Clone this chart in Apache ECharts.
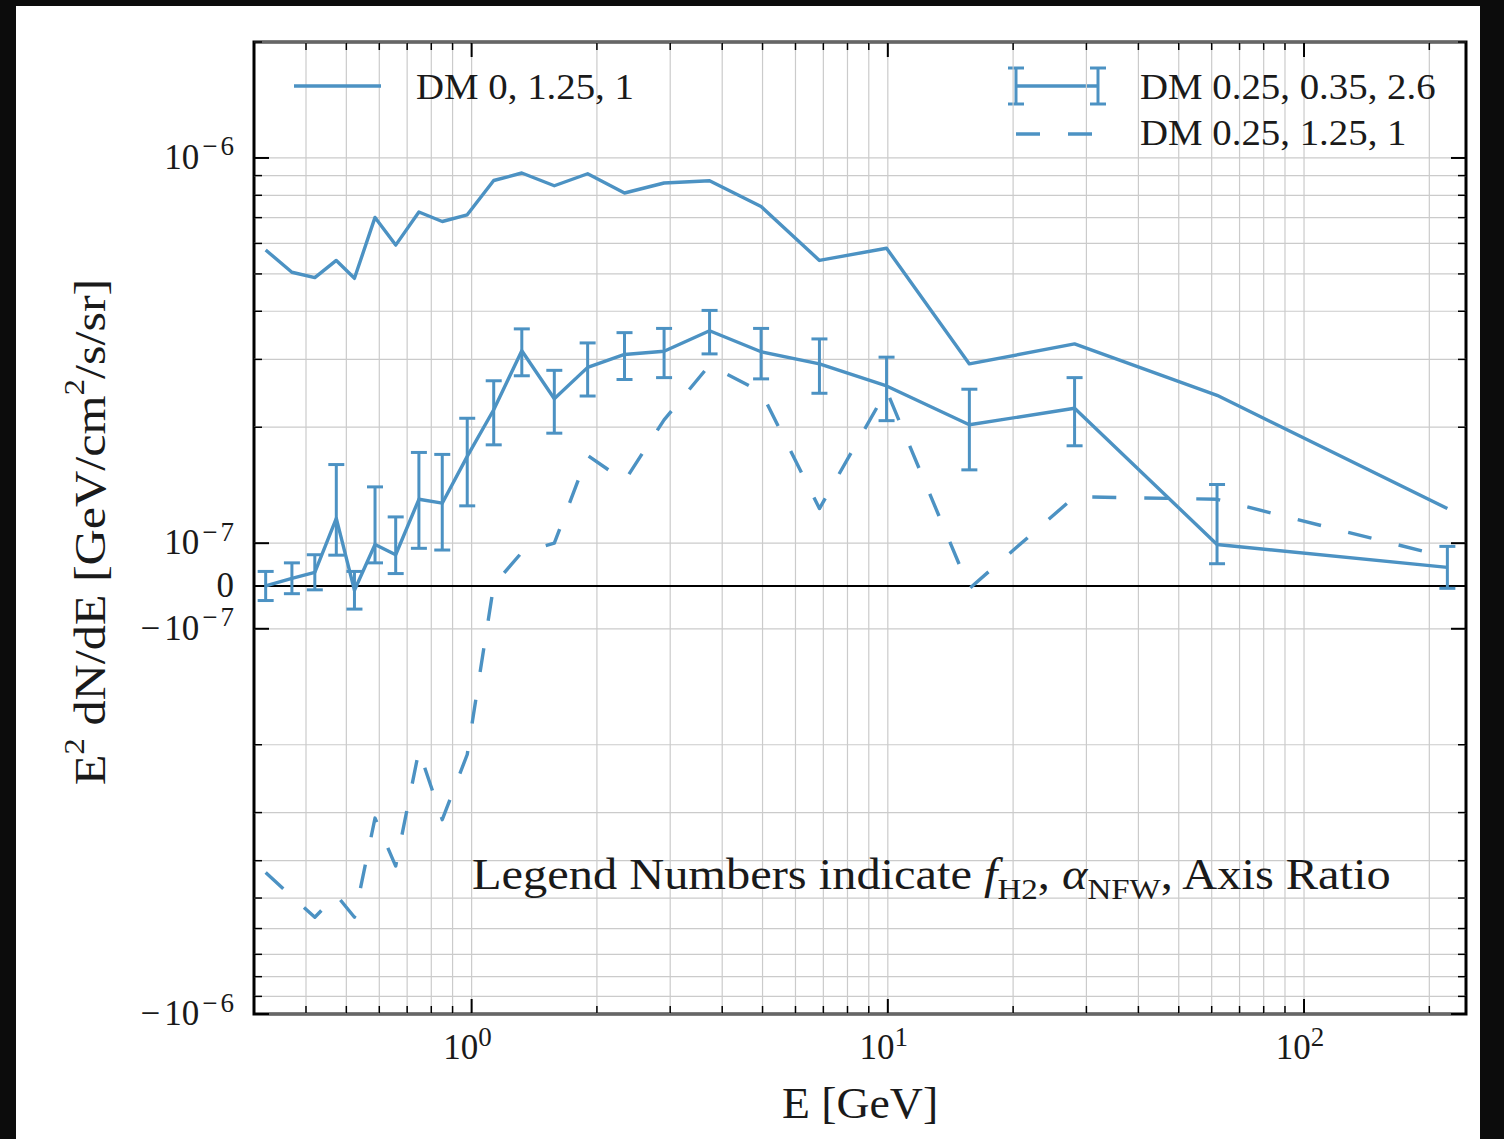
<!DOCTYPE html>
<html>
<head>
<meta charset="utf-8">
<script src="https://cdn.jsdelivr.net/npm/echarts@6.0.0/dist/echarts.min.js"></script>
<style>
html,body{margin:0;padding:0;background:#0c0c0c;}
#wrap{position:relative;width:1504px;height:1139px;overflow:hidden;}
#paper{position:absolute;left:16px;top:6px;width:1464px;height:1133px;background:#fff;}
#c{position:absolute;left:0;top:0;width:1504px;height:1139px;}
</style>
</head>
<body>
<div id="wrap"><div id="paper"></div><div id="c"></div></div>
<script>
// ---------------- data ----------------
const energy = [0.32, 0.37, 0.42, 0.473, 0.523, 0.586, 0.657, 0.747, 0.85, 0.976, 1.13, 1.32,
                1.58, 1.9, 2.33, 2.9, 3.73, 4.96, 6.85, 9.93, 15.7, 28.1, 61.8, 221];
const dm_0_125_1 = [5.77e-7, 5.05e-7, 4.89e-7, 5.42e-7, 4.87e-7, 7.01e-7, 5.94e-7, 7.24e-7, 6.84e-7, 7.12e-7,
                    8.74e-7, 9.14e-7, 8.47e-7, 9.10e-7, 8.11e-7, 8.61e-7, 8.73e-7, 7.48e-7, 5.42e-7, 5.83e-7,
                    2.92e-7, 3.29e-7, 2.42e-7, 1.23e-7];
const dm_025_035_26 = [0.0, 0.18e-7, 0.32e-7, 1.16e-7, -0.10e-7, 0.97e-7, 0.73e-7, 1.30e-7, 1.27e-7, 1.68e-7,
                       2.22e-7, 3.16e-7, 2.37e-7, 2.86e-7, 3.09e-7, 3.15e-7, 3.56e-7, 3.14e-7, 2.92e-7, 2.56e-7,
                       2.03e-7, 2.24e-7, 0.97e-7, 0.435e-7];
const dm_025_035_26_err = [0.34e-7, 0.36e-7, 0.41e-7, 0.44e-7, 0.44e-7, 0.43e-7, 0.44e-7, 0.42e-7, 0.43e-7, 0.43e-7,
                           0.42e-7, 0.44e-7, 0.44e-7, 0.45e-7, 0.43e-7, 0.46e-7, 0.46e-7, 0.47e-7, 0.47e-7, 0.48e-7,
                           0.48e-7, 0.45e-7, 0.45e-7, 0.49e-7];
const dm_025_125_1 = [-4.29e-7, -4.96e-7, -5.61e-7, -4.91e-7, -5.61e-7, -3.10e-7, -4.13e-7, -2.07e-7, -3.13e-7, -2.12e-7,
                      0.02e-7, 0.785e-7, 1.0e-7, 1.69e-7, 1.45e-7, 2.09e-7, 2.90e-7, 2.47e-7, 1.23e-7, 2.49e-7,
                      -0.06e-7, 1.32e-7, 1.30e-7, 0.67e-7];

const seriesNames = ['DM 0, 1.25, 1', 'DM 0.25, 0.35, 2.6', 'DM 0.25, 1.25, 1'];

const xMajorTicks = [1, 10, 100];
const xMajorExp = ['0', '1', '2'];
const xMinorTicks = [0.4, 0.5, 0.6, 0.7, 0.8, 0.9, 2, 3, 4, 5, 6, 7, 8, 9,
                     20, 30, 40, 50, 60, 70, 80, 90, 200];
const yMajorTicks = [-1e-6, -1e-7, 0, 1e-7, 1e-6];
// [sign, base, exponent]
const yMajorLabels = [['−', '10', '6'], ['−', '10', '7'], ['', '0', ''], ['', '10', '7'], ['', '10', '6']];
const yMinorTicks = [-9e-7, -8e-7, -7e-7, -6e-7, -5e-7, -4e-7, -3e-7, -2e-7,
                     2e-7, 3e-7, 4e-7, 5e-7, 6e-7, 7e-7, 8e-7, 9e-7, 2e-6];
const xRange = [0.3, 245];
const yRange = [-1e-6, 2e-6];

// ---------------- symlog transform (linthresh 1e-7, linscale 0.1) ----------------
const LT = 1e-7, LS = 0.1 / 0.9;
function sym(v) {
  const a = Math.abs(v);
  if (a <= LT) return v / LT * LS;
  return Math.sign(v) * (LS + Math.log10(a / LT));
}
const yMinT = sym(yRange[0]), yMaxT = sym(yRange[1]);

const C = '#4c92c3';
const INK = '#1a1a1a';
const FONT = '"Liberation Serif", "DejaVu Serif", serif';
const RICH = {
  n: {fontSize: 35, fontFamily: FONT, lineHeight: 42, verticalAlign: 'bottom', fill: INK, padding: [0, 4, 0, 3]},
  b: {fontSize: 35, fontFamily: FONT, lineHeight: 42, verticalAlign: 'bottom', fill: INK},
  m: {fontSize: 27, fontFamily: FONT, lineHeight: 24, verticalAlign: 'top', fill: INK, padding: [0, 3, 0, 3]},
  s: {fontSize: 27, fontFamily: FONT, lineHeight: 24, verticalAlign: 'top', fill: INK}
};
const GRIDC = '#cbcbcb';

function renderXTick(params, api) {
  const E = api.value(0), major = api.value(2), li = api.value(3);
  const b = api.coord([E, yMinT]), t = api.coord([E, yMaxT]);
  const len = major ? 15 : 8, w = major ? 2 : 1.5;
  const ch = [
    {type: 'line', shape: {x1: b[0], y1: b[1], x2: t[0], y2: t[1]}, style: {stroke: GRIDC, lineWidth: 1.2}},
    {type: 'line', shape: {x1: b[0], y1: b[1], x2: b[0], y2: b[1] - len}, style: {stroke: '#000', lineWidth: w}},
    {type: 'line', shape: {x1: t[0], y1: t[1], x2: t[0], y2: t[1] + len}, style: {stroke: '#000', lineWidth: w}}
  ];
  if (major) {
    ch.push({type: 'text', x: b[0] - 4, y: b[1] + 9,
      style: {text: '{b|10}{s|' + xMajorExp[li] + '}', rich: RICH, align: 'center', verticalAlign: 'top', fill: INK}});
  }
  return {type: 'group', children: ch};
}

function renderYTick(params, api) {
  const y = api.value(1), major = api.value(2), li = api.value(3);
  const l = api.coord([xRange[0], y]), r = api.coord([xRange[1], y]);
  const len = major ? 15 : 8, w = major ? 2 : 1.5;
  const isZero = Math.abs(y) < 1e-12;
  const ch = [
    {type: 'line', shape: {x1: l[0], y1: l[1], x2: r[0], y2: r[1]},
     style: {stroke: isZero ? '#000' : GRIDC, lineWidth: isZero ? 2 : 1.2}},
    {type: 'line', shape: {x1: l[0], y1: l[1], x2: l[0] + len, y2: l[1]}, style: {stroke: '#000', lineWidth: w}},
    {type: 'line', shape: {x1: r[0], y1: r[1], x2: r[0] - len, y2: r[1]}, style: {stroke: '#000', lineWidth: w}}
  ];
  if (major) {
    const lab = yMajorLabels[li];
    let txt = '';
    if (lab[0]) txt += '{n|' + lab[0] + '}';
    txt += '{b|' + lab[1] + '}';
    if (lab[2]) txt += '{m|−}{s|' + lab[2] + '}';
    ch.push({type: 'text', x: l[0] - 20, y: l[1] - 4,
      style: {text: txt, rich: RICH, align: 'right', verticalAlign: 'middle', fill: INK}});
  }
  return {type: 'group', children: ch};
}

function renderErr(params, api) {
  const E = api.value(0);
  const top = api.coord([E, api.value(2)]), bot = api.coord([E, api.value(3)]);
  const hw = 8, st = {stroke: C, lineWidth: 3};
  return {type: 'group', children: [
    {type: 'line', shape: {x1: top[0], y1: top[1], x2: bot[0], y2: bot[1]}, style: st},
    {type: 'line', shape: {x1: top[0] - hw, y1: top[1], x2: top[0] + hw, y2: top[1]}, style: st},
    {type: 'line', shape: {x1: bot[0] - hw, y1: bot[1], x2: bot[0] + hw, y2: bot[1]}, style: st}
  ]};
}

const xTickData = xMajorTicks.map((e, i) => [e, 0, 1, i]).concat(xMinorTicks.map(e => [e, 0, 0, -1]));
const yTickData = yMajorTicks.map((v, i) => [1, sym(v), 1, i]).concat(yMinorTicks.map(v => [1, sym(v), 0, -1]));

const LEG_FONT = '35px ' + FONT;
const chart = echarts.init(document.getElementById('c'), null, {renderer: 'svg'});
chart.setOption({
  backgroundColor: 'transparent',
  animation: false,
  grid: {left: 254, right: 38, top: 42, bottom: 125, show: true, borderColor: '#000', borderWidth: 3,
         backgroundColor: 'transparent'},
  xAxis: {type: 'log', logBase: 10, min: xRange[0], max: xRange[1],
          axisLine: {show: false}, axisTick: {show: false}, axisLabel: {show: false}, splitLine: {show: false}},
  yAxis: {type: 'value', min: yMinT, max: yMaxT,
          axisLine: {show: false}, axisTick: {show: false}, axisLabel: {show: false}, splitLine: {show: false}},
  series: [
    {type: 'custom', name: 'xticks', renderItem: renderXTick, data: xTickData, z: 1, silent: true, clip: false},
    {type: 'custom', name: 'yticks', renderItem: renderYTick, data: yTickData, z: 1, silent: true, clip: false},
    {type: 'line', name: seriesNames[0], data: energy.map((e, i) => [e, sym(dm_0_125_1[i])]),
     showSymbol: false, symbol: 'none', z: 5,
     lineStyle: {color: C, width: 3.4, join: 'round'}},
    {type: 'line', name: seriesNames[1], data: energy.map((e, i) => [e, sym(dm_025_035_26[i])]),
     showSymbol: false, symbol: 'none', z: 5,
     lineStyle: {color: C, width: 3.4, join: 'round'}},
    {type: 'custom', name: seriesNames[1] + ' err', renderItem: renderErr, z: 5, clip: false,
     data: energy.map((e, i) => [e, sym(dm_025_035_26[i]),
                                 sym(dm_025_035_26[i] + dm_025_035_26_err[i]),
                                 sym(dm_025_035_26[i] - dm_025_035_26_err[i])])},
    {type: 'line', name: seriesNames[2], data: energy.map((e, i) => [e, sym(dm_025_125_1[i])]),
     showSymbol: false, symbol: 'none', z: 5,
     lineStyle: {color: C, width: 3.4, type: [24, 28], cap: 'butt', join: 'round'}}
  ],
  graphic: [
    // legend: solid line
    {type: 'line', shape: {x1: 294, y1: 86, x2: 381, y2: 86}, style: {stroke: C, lineWidth: 3.4}, z: 10},
    {type: 'text', x: 416, y: 87, z: 10, scaleX: 1.11,
     style: {text: seriesNames[0], font: LEG_FONT, fill: INK, align: 'left', verticalAlign: 'middle'}},
    // legend: errorbar
    {type: 'group', z: 10, children: [
      {type: 'line', shape: {x1: 1016, y1: 86, x2: 1098, y2: 86}, style: {stroke: C, lineWidth: 3.4}},
      {type: 'line', shape: {x1: 1016, y1: 68, x2: 1016, y2: 104}, style: {stroke: C, lineWidth: 3}},
      {type: 'line', shape: {x1: 1008, y1: 68, x2: 1024, y2: 68}, style: {stroke: C, lineWidth: 3}},
      {type: 'line', shape: {x1: 1008, y1: 104, x2: 1024, y2: 104}, style: {stroke: C, lineWidth: 3}},
      {type: 'line', shape: {x1: 1098, y1: 68, x2: 1098, y2: 104}, style: {stroke: C, lineWidth: 3}},
      {type: 'line', shape: {x1: 1090, y1: 68, x2: 1106, y2: 68}, style: {stroke: C, lineWidth: 3}},
      {type: 'line', shape: {x1: 1090, y1: 104, x2: 1106, y2: 104}, style: {stroke: C, lineWidth: 3}}
    ]},
    {type: 'text', x: 1140, y: 87, z: 10, scaleX: 1.11,
     style: {text: seriesNames[1], font: LEG_FONT, fill: INK, align: 'left', verticalAlign: 'middle'}},
    // legend: dashed
    {type: 'line', shape: {x1: 1016, y1: 134, x2: 1094, y2: 134}, z: 10,
     style: {stroke: C, lineWidth: 3.4, lineDash: [24, 28]}},
    {type: 'text', x: 1140, y: 133, z: 10, scaleX: 1.11,
     style: {text: seriesNames[2], font: LEG_FONT, fill: INK, align: 'left', verticalAlign: 'middle'}},
    // annotation
    {type: 'text', x: 472, y: 878, z: 10, scaleX: 1.1,
     style: {text: '{t|Legend Numbers indicate }{i|f}{u|H2}{t|, }{g|α}{u|NFW}{t|, Axis Ratio}',
             align: 'left', verticalAlign: 'middle', fill: INK,
             rich: {t: {fontSize: 44, fontFamily: FONT, lineHeight: 52, verticalAlign: 'top'},
                    i: {fontSize: 44, fontFamily: FONT, fontStyle: 'italic', lineHeight: 52, verticalAlign: 'top'},
                    g: {fontSize: 44, fontFamily: FONT, fontStyle: 'italic', lineHeight: 52, verticalAlign: 'top'},
                    u: {fontSize: 30, fontFamily: FONT, lineHeight: 42, verticalAlign: 'bottom'}}}},
    // axis titles
    {type: 'text', x: 860, y: 1103, z: 10, scaleX: 1.04,
     style: {text: 'E [GeV]', font: '44px ' + FONT, fill: INK, align: 'center', verticalAlign: 'middle'}},
    {type: 'text', x: 86, y: 532, rotation: Math.PI / 2, scaleX: 1.14, z: 10,
     style: {text: '{b|E}{s|2}{b| dN/dE [GeV/cm}{s|2}{b|/s/sr]}', align: 'center', verticalAlign: 'middle',
             fill: INK,
             rich: {b: {fontSize: 44, fontFamily: FONT, lineHeight: 52, verticalAlign: 'bottom'},
                    s: {fontSize: 29, fontFamily: FONT, lineHeight: 30, verticalAlign: 'top'}}}}
  ]
});
</script>
</body>
</html>
